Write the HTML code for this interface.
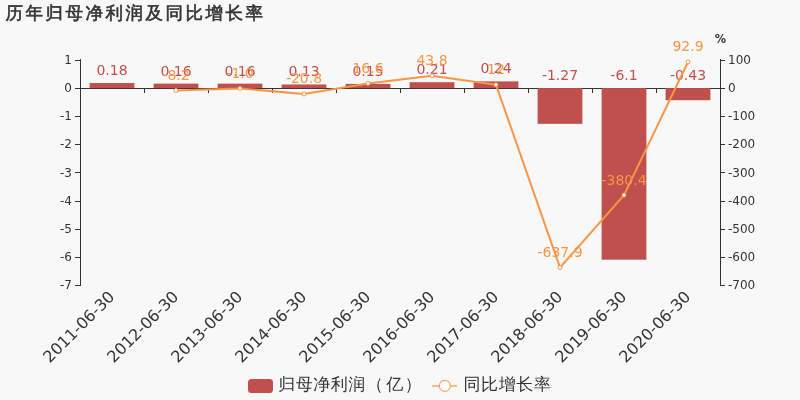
<!DOCTYPE html><html><head><meta charset="utf-8"><style>html,body{margin:0;padding:0;background:#f8f8f8;}svg{display:block;will-change:transform}</style></head><body>
<svg width="800" height="400" viewBox="0 0 800 400">
<rect width="800" height="400" fill="#f8f8f8"/>
<text x="5.5" y="18.7" font-family='"WenQuanYi Zen Hei", sans-serif' font-size="17.5" letter-spacing="2.5" fill="#333" stroke="#333" stroke-width="0.6">历年归母净利润及同比增长率</text>
<g stroke="#333333" stroke-width="1" fill="none" shape-rendering="crispEdges">
<line x1="80.5" y1="59.4" x2="80.5" y2="286"/>
<line x1="75" y1="60.5" x2="80" y2="60.5"/>
<line x1="75" y1="88.5" x2="80" y2="88.5"/>
<line x1="75" y1="116.5" x2="80" y2="116.5"/>
<line x1="75" y1="144.5" x2="80" y2="144.5"/>
<line x1="75" y1="172.5" x2="80" y2="172.5"/>
<line x1="75" y1="201.5" x2="80" y2="201.5"/>
<line x1="75" y1="229.5" x2="80" y2="229.5"/>
<line x1="75" y1="257.5" x2="80" y2="257.5"/>
<line x1="75" y1="285.5" x2="80" y2="285.5"/>
<line x1="720.5" y1="59.4" x2="720.5" y2="286"/>
<line x1="720" y1="60.5" x2="725" y2="60.5"/>
<line x1="720" y1="88.5" x2="725" y2="88.5"/>
<line x1="720" y1="116.5" x2="725" y2="116.5"/>
<line x1="720" y1="144.5" x2="725" y2="144.5"/>
<line x1="720" y1="172.5" x2="725" y2="172.5"/>
<line x1="720" y1="201.5" x2="725" y2="201.5"/>
<line x1="720" y1="229.5" x2="725" y2="229.5"/>
<line x1="720" y1="257.5" x2="725" y2="257.5"/>
<line x1="720" y1="285.5" x2="725" y2="285.5"/>
<line x1="80" y1="88.5" x2="721" y2="88.5"/>
<line x1="80.5" y1="88" x2="80.5" y2="93"/>
<line x1="144.5" y1="88" x2="144.5" y2="93"/>
<line x1="208.5" y1="88" x2="208.5" y2="93"/>
<line x1="272.5" y1="88" x2="272.5" y2="93"/>
<line x1="336.5" y1="88" x2="336.5" y2="93"/>
<line x1="400.5" y1="88" x2="400.5" y2="93"/>
<line x1="464.5" y1="88" x2="464.5" y2="93"/>
<line x1="528.5" y1="88" x2="528.5" y2="93"/>
<line x1="592.5" y1="88" x2="592.5" y2="93"/>
<line x1="656.5" y1="88" x2="656.5" y2="93"/>
<line x1="720.5" y1="88" x2="720.5" y2="93"/>
</g>
<g font-family='"DejaVu Sans", sans-serif' font-size="12" fill="#333333">
<text x="72" y="64" text-anchor="end">1</text>
<text x="72" y="92" text-anchor="end">0</text>
<text x="72" y="120" text-anchor="end">-1</text>
<text x="72" y="148" text-anchor="end">-2</text>
<text x="72" y="177" text-anchor="end">-3</text>
<text x="72" y="205" text-anchor="end">-4</text>
<text x="72" y="233" text-anchor="end">-5</text>
<text x="72" y="261" text-anchor="end">-6</text>
<text x="72" y="289" text-anchor="end">-7</text>
<text x="728" y="64">100</text>
<text x="728" y="92">0</text>
<text x="728" y="120">-100</text>
<text x="728" y="148">-200</text>
<text x="728" y="177">-300</text>
<text x="728" y="205">-400</text>
<text x="728" y="233">-500</text>
<text x="728" y="261">-600</text>
<text x="728" y="289">-700</text>
</g>
<text transform="translate(714.7,43) scale(0.94,1)" font-family='"DejaVu Sans", sans-serif' font-size="12" font-weight="bold" fill="#333333">%</text>
<rect x="89.60" y="83.06" width="44.8" height="5.06" fill="#c0504d"/>
<rect x="153.60" y="83.62" width="44.8" height="4.50" fill="#c0504d"/>
<rect x="217.60" y="83.62" width="44.8" height="4.50" fill="#c0504d"/>
<rect x="281.60" y="84.47" width="44.8" height="3.66" fill="#c0504d"/>
<rect x="345.60" y="83.91" width="44.8" height="4.22" fill="#c0504d"/>
<rect x="409.60" y="82.22" width="44.8" height="5.91" fill="#c0504d"/>
<rect x="473.60" y="81.38" width="44.8" height="6.75" fill="#c0504d"/>
<rect x="537.60" y="88.12" width="44.8" height="35.72" fill="#c0504d"/>
<rect x="601.60" y="88.12" width="44.8" height="171.56" fill="#c0504d"/>
<rect x="665.60" y="88.12" width="44.8" height="12.09" fill="#c0504d"/>
<g font-family='"DejaVu Sans", sans-serif' font-size="14" fill="#c0504d" text-anchor="middle">
<text x="112.0" y="75.00">0.18</text>
<text x="176.0" y="76.00">0.16</text>
<text x="240.0" y="76.00">0.16</text>
<text x="304.0" y="76.00">0.13</text>
<text x="368.0" y="76.00">0.15</text>
<text x="432.0" y="74.00">0.21</text>
<text x="496.0" y="73.00">0.24</text>
<text x="560.0" y="80.00">-1.27</text>
<text x="624.0" y="80.00">-6.1</text>
<text x="688.0" y="80.00">-0.43</text>
</g>
<polyline points="176.00,90.43 240.00,88.41 304.00,93.97 368.00,83.46 432.00,75.81 496.00,84.75 560.00,267.53 624.00,195.11 688.00,62.00" fill="none" stroke="#f79646" stroke-width="2" stroke-linejoin="round"/>
<circle cx="176.00" cy="90.43" r="2" fill="#fff" stroke="#f79646" stroke-width="1"/>
<circle cx="240.00" cy="88.41" r="2" fill="#fff" stroke="#f79646" stroke-width="1"/>
<circle cx="304.00" cy="93.97" r="2" fill="#fff" stroke="#f79646" stroke-width="1"/>
<circle cx="368.00" cy="83.46" r="2" fill="#fff" stroke="#f79646" stroke-width="1"/>
<circle cx="432.00" cy="75.81" r="2" fill="#fff" stroke="#f79646" stroke-width="1"/>
<circle cx="496.00" cy="84.75" r="2" fill="#fff" stroke="#f79646" stroke-width="1"/>
<circle cx="560.00" cy="267.53" r="2" fill="#fff" stroke="#f79646" stroke-width="1"/>
<circle cx="624.00" cy="195.11" r="2" fill="#fff" stroke="#f79646" stroke-width="1"/>
<circle cx="688.00" cy="62.00" r="2" fill="#fff" stroke="#f79646" stroke-width="1"/>
<g font-family='"DejaVu Sans", sans-serif' font-size="14" fill="#f79646" text-anchor="middle">
<text x="176.0" y="80.00">-8.2</text>
<text x="240.0" y="78.00">-1.0</text>
<text x="304.0" y="83.00">-20.8</text>
<text x="368.0" y="73.00">16.6</text>
<text x="432.0" y="65.00">43.8</text>
<text x="496.0" y="74.00">12</text>
<text x="560.0" y="257.00">-637.9</text>
<text x="624.0" y="185.00">-380.4</text>
<text x="688.0" y="51.00">92.9</text>
</g>
<g font-family='"DejaVu Sans", sans-serif' font-size="16" fill="#333333" text-anchor="end">
<text transform="translate(112.0,294.2) rotate(-45)" x="0" y="5">2011-06-30</text>
<text transform="translate(176.0,294.2) rotate(-45)" x="0" y="5">2012-06-30</text>
<text transform="translate(240.0,294.2) rotate(-45)" x="0" y="5">2013-06-30</text>
<text transform="translate(304.0,294.2) rotate(-45)" x="0" y="5">2014-06-30</text>
<text transform="translate(368.0,294.2) rotate(-45)" x="0" y="5">2015-06-30</text>
<text transform="translate(432.0,294.2) rotate(-45)" x="0" y="5">2016-06-30</text>
<text transform="translate(496.0,294.2) rotate(-45)" x="0" y="5">2017-06-30</text>
<text transform="translate(560.0,294.2) rotate(-45)" x="0" y="5">2018-06-30</text>
<text transform="translate(624.0,294.2) rotate(-45)" x="0" y="5">2019-06-30</text>
<text transform="translate(688.0,294.2) rotate(-45)" x="0" y="5">2020-06-30</text>
</g>
<rect x="248" y="379" width="25" height="14" rx="3.5" fill="#c0504d"/>
<text x="278.3" y="390" font-family='"WenQuanYi Zen Hei", sans-serif' font-size="17" letter-spacing="0.5" fill="#333333">归母净利润<tspan dx="0.5">（</tspan><tspan dx="2.5">亿</tspan><tspan dx="1">）</tspan></text>
<line x1="432" y1="386" x2="457" y2="386" stroke="#f79646" stroke-opacity="0.62" stroke-width="2"/>
<circle cx="444.8" cy="385.9" r="5.5" fill="#fff" stroke="#f79646" stroke-opacity="0.85" stroke-width="1.1"/>
<text x="463.5" y="390" font-family='"WenQuanYi Zen Hei", sans-serif' font-size="17" letter-spacing="0.6" fill="#333333">同比增长率</text>
</svg></body></html>
